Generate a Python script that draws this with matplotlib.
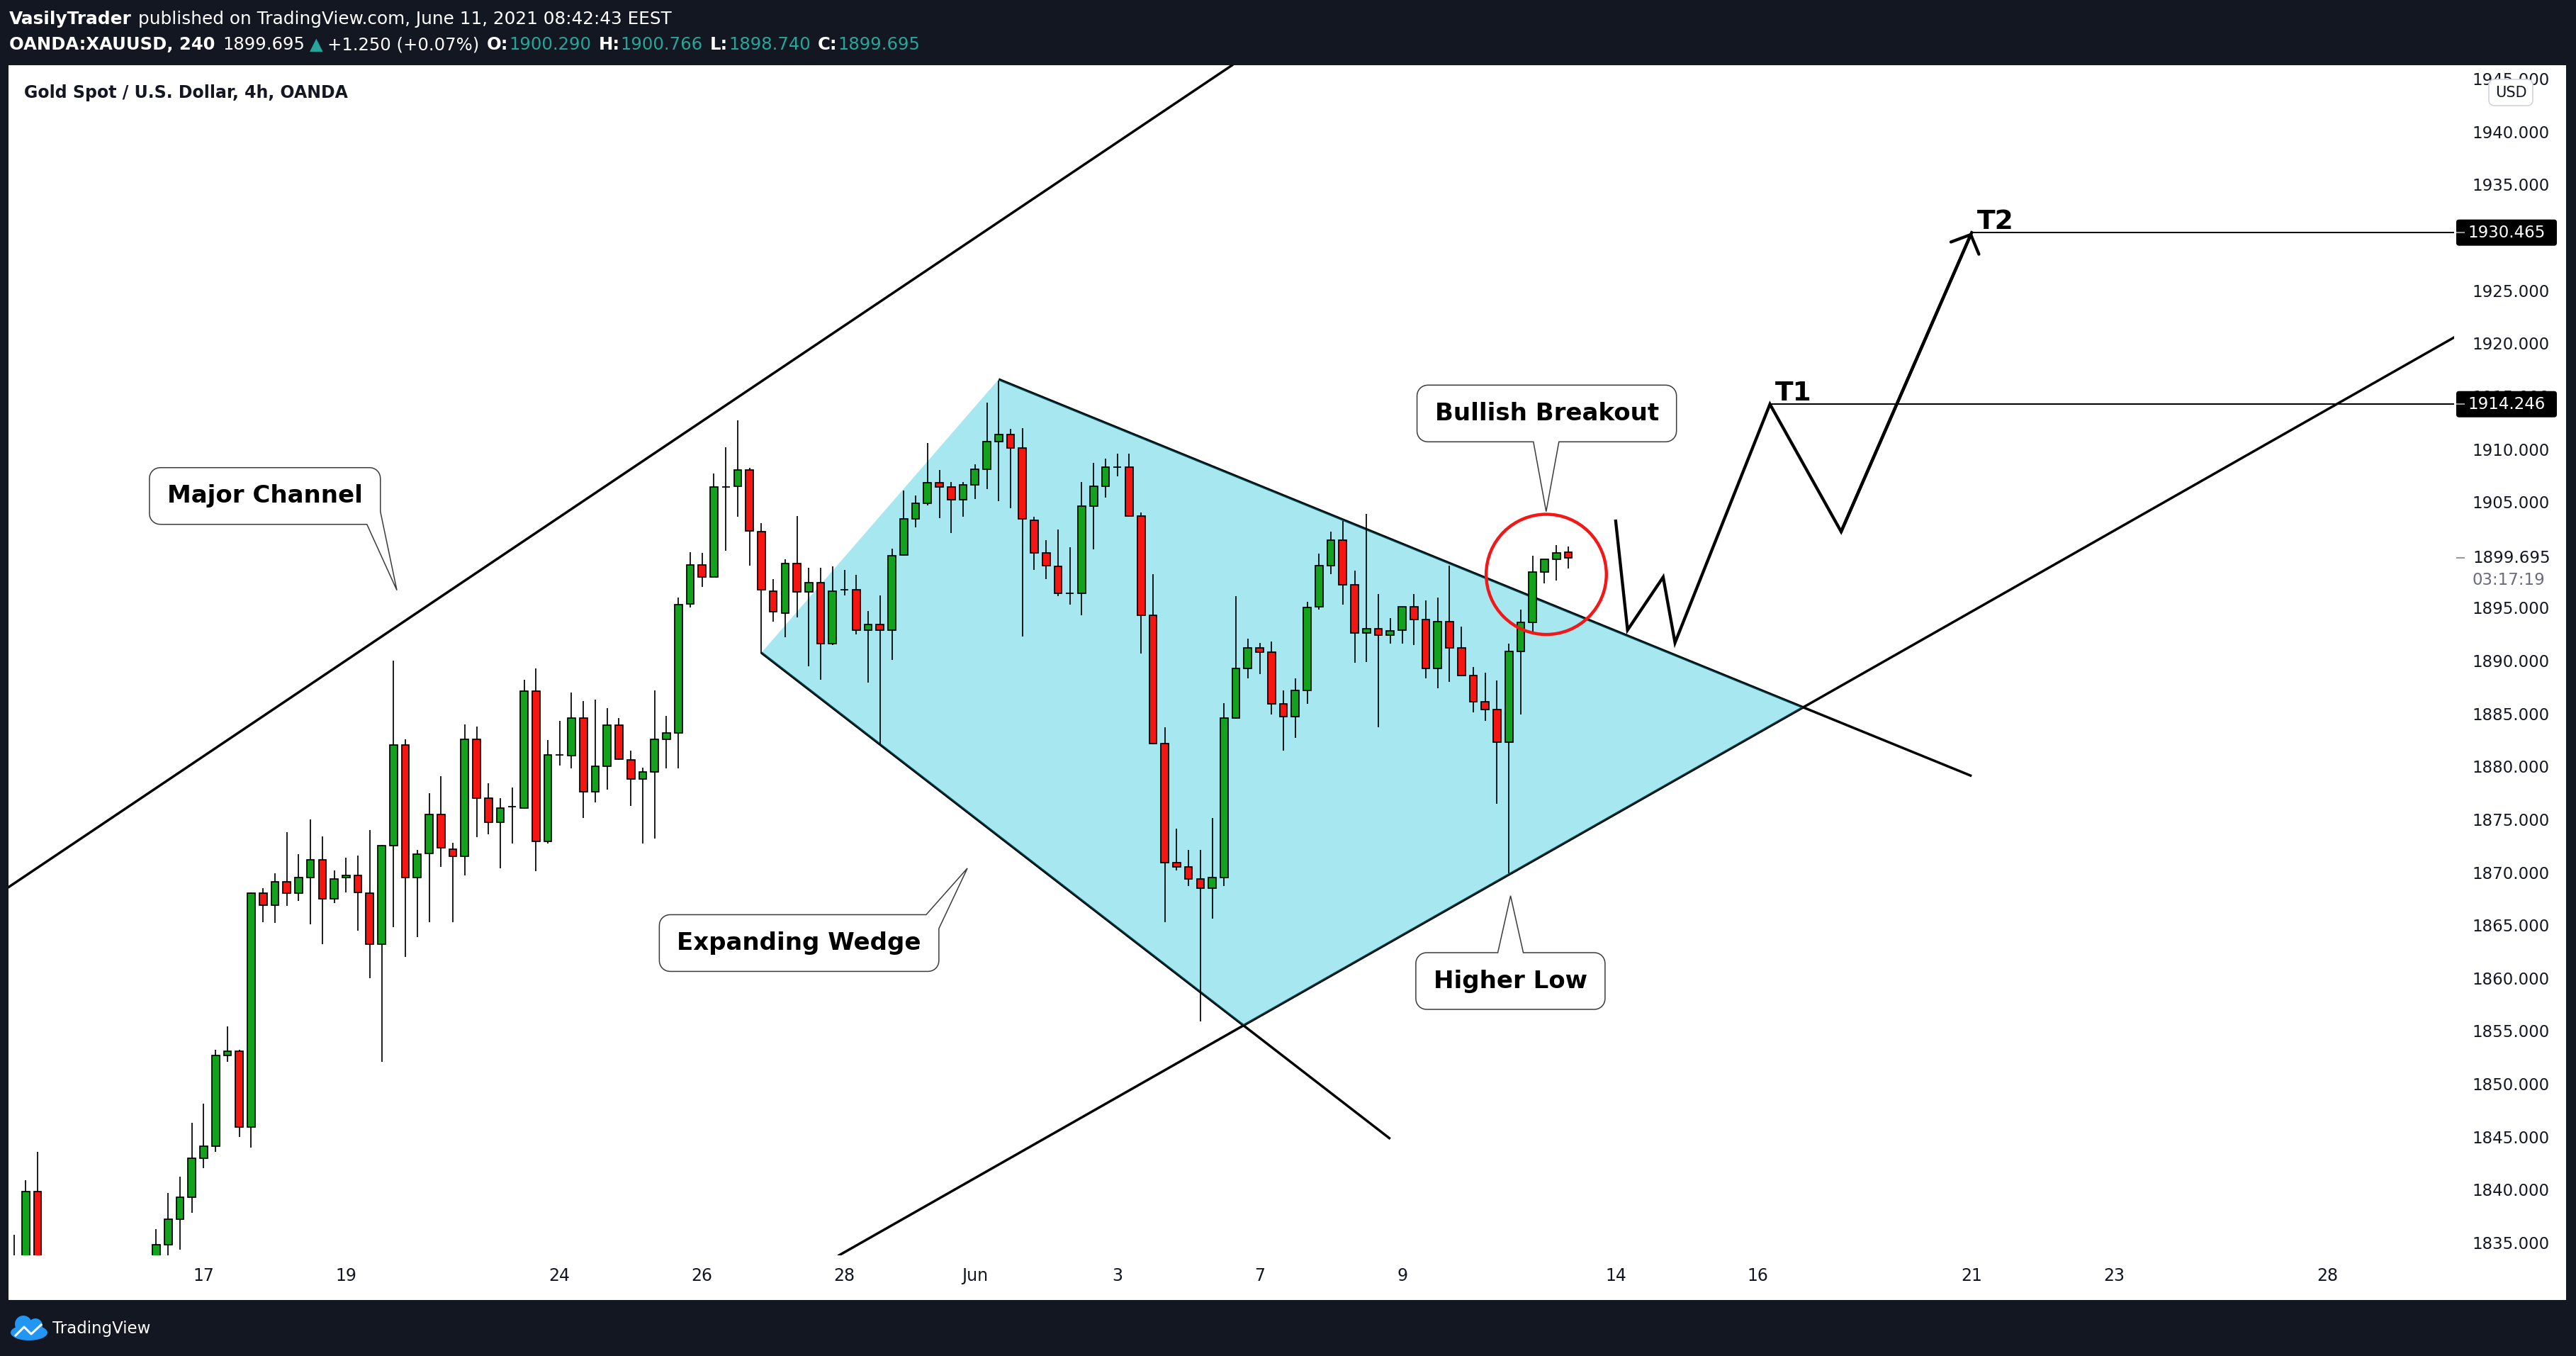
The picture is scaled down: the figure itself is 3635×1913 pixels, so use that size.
import matplotlib
matplotlib.use("Agg")
import matplotlib.pyplot as plt
import numpy as np
from matplotlib.patches import Rectangle, FancyBboxPatch, Ellipse, Polygon

W, H = 3635, 1913
BG = "#131722"
INK = "#131722"
UP = "#13a21b"
DOWN = "#f51612"
TEAL = "#26a69a"
nan = float("nan")

# 4h candles of OANDA:XAUUSD, bar 0 = first bar of May 17 2021
# (bars -13..-5 sit below the visible price range)
first_bar = -16
opens = [1832.5, 1828.0, 1839.85] + [nan] * 9 + [
    1831.5, 1834.8, 1837.2, 1839.3, 1843.0, 1844.1, 1852.7, 1853.1, 1845.9, 1868.0,
    1866.9, 1869.1, 1868.0, 1869.5, 1871.2, 1867.5, 1869.5, 1869.7, 1868.0, 1863.2,
    1872.5, 1882.0, 1869.5, 1871.8, 1875.5, 1872.2, 1871.5, 1882.6, 1877.0, 1874.7,
    1876.2, 1876.1, 1887.1, 1872.9, 1881.1, 1881.0, 1884.6, 1877.6, 1880.0, 1883.9,
    1880.6, 1878.8, 1879.5, 1882.6, 1883.2, 1895.35, 1899.07, 1897.9, 1906.45, 1906.5,
    1908.0, 1902.2, 1896.6, 1894.5, 1899.2, 1896.5, 1897.4, 1891.6, 1896.7, 1896.7,
    1892.9, 1893.4, 1892.9, 1900.0, 1903.4, 1904.9, 1906.8, 1906.4, 1905.2, 1906.6,
    1908.1, 1910.7, 1911.4, 1910.1, 1903.3, 1900.2, 1898.9, 1896.4, 1896.4, 1904.6,
    1906.5, 1908.3, 1908.3, 1903.7, 1894.3, 1882.2, 1870.9, 1870.5, 1869.4, 1868.5,
    1869.5, 1884.6, 1889.3, 1891.2, 1890.8, 1885.9, 1884.7, 1887.2, 1895.1, 1899.0,
    1901.4, 1897.2, 1892.6, 1893.0, 1892.4, 1892.9, 1895.1, 1893.9, 1889.3, 1893.7,
    1891.2, 1888.6, 1886.1, 1885.4, 1882.3, 1890.9, 1893.6, 1898.4, 1899.6, 1900.290]
highs = [1835.7, 1840.9, 1843.6] + [nan] * 9 + [
    1836.3, 1839.7, 1841.2, 1846.3, 1848.1, 1853.2, 1855.4, 1853.2, 1868.1, 1868.5,
    1869.9, 1873.8, 1871.7, 1875.0, 1873.4, 1870.2, 1871.4, 1871.6, 1874.0, 1872.6,
    1890.0, 1882.6, 1872.1, 1877.5, 1879.1, 1872.8, 1884.0, 1883.8, 1878.4, 1877.0,
    1878.0, 1888.2, 1889.3, 1882.5, 1884.3, 1887.0, 1886.2, 1886.3, 1885.5, 1884.6,
    1881.5, 1879.9, 1887.2, 1884.8, 1896.0, 1900.26, 1900.2, 1907.7, 1910.2, 1912.7,
    1908.2, 1903.0, 1897.7, 1899.6, 1903.7, 1898.8, 1898.8, 1898.9, 1898.6, 1898.1,
    1894.7, 1896.2, 1900.6, 1906.1, 1905.6, 1910.6, 1908.0, 1906.9, 1906.9, 1908.6,
    1914.4, 1916.5, 1911.9, 1912.0, 1903.6, 1901.4, 1902.4, 1900.7, 1906.9, 1908.7,
    1909.1, 1909.6, 1909.6, 1904.0, 1898.2, 1883.7, 1874.1, 1872.1, 1872.1, 1875.1,
    1886.0, 1896.1, 1892.1, 1891.7, 1891.8, 1887.2, 1888.3, 1895.6, 1900.1, 1902.2,
    1903.2, 1898.5, 1903.9, 1896.3, 1894.0, 1895.1, 1896.3, 1895.7, 1896.0, 1899.0,
    1893.2, 1889.4, 1888.9, 1888.1, 1891.6, 1894.8, 1899.9, 1899.6, 1900.9, 1900.766]
lows = [1830.0, 1826.5, 1827.0] + [nan] * 9 + [
    1830.5, 1833.0, 1834.3, 1837.8, 1842.0, 1843.6, 1852.1, 1845.0, 1844.0, 1865.3,
    1865.2, 1866.8, 1867.3, 1865.1, 1863.2, 1867.1, 1868.1, 1864.5, 1860.0, 1852.1,
    1864.8, 1862.0, 1863.9, 1865.3, 1870.5, 1865.3, 1869.7, 1873.3, 1873.6, 1870.4,
    1872.7, 1876.0, 1870.1, 1872.7, 1880.1, 1879.8, 1875.1, 1876.6, 1877.8, 1880.6,
    1876.3, 1872.7, 1873.2, 1879.8, 1879.8, 1895.05, 1896.95, 1897.9, 1900.4, 1903.6,
    1899.0, 1890.7, 1893.7, 1892.2, 1894.1, 1889.5, 1888.2, 1891.5, 1896.2, 1892.5,
    1887.9, 1882.1, 1890.1, 1899.9, 1902.6, 1904.7, 1903.5, 1902.1, 1903.6, 1905.3,
    1906.2, 1905.1, 1904.4, 1892.3, 1898.6, 1897.7, 1896.1, 1895.3, 1894.3, 1900.5,
    1905.4, 1907.4, 1903.6, 1890.7, 1882.1, 1865.3, 1870.2, 1868.7, 1855.9, 1865.6,
    1868.7, 1884.5, 1888.3, 1888.7, 1884.9, 1881.5, 1882.7, 1885.9, 1894.8, 1898.2,
    1895.3, 1889.8, 1889.9, 1883.7, 1891.6, 1891.6, 1891.5, 1888.3, 1887.4, 1888.0,
    1888.6, 1885.1, 1884.3, 1876.5, 1869.9, 1884.9, 1892.75, 1897.3, 1897.6, 1898.740]
closes = [1832.0, 1839.85, 1829.0] + [nan] * 9 + [
    1834.8, 1837.2, 1839.3, 1843.0, 1844.1, 1852.7, 1853.1, 1845.9, 1868.0, 1866.9,
    1869.1, 1868.0, 1869.5, 1871.2, 1867.5, 1869.4, 1869.7, 1868.1, 1863.2, 1872.5,
    1882.0, 1869.5, 1871.7, 1875.5, 1872.3, 1871.5, 1882.6, 1877.0, 1874.7, 1876.1,
    1876.2, 1887.1, 1872.9, 1881.1, 1881.1, 1884.6, 1877.6, 1880.0, 1883.9, 1880.7,
    1878.8, 1879.5, 1882.6, 1883.2, 1895.3, 1899.07, 1897.9, 1906.4, 1906.45, 1908.0,
    1902.3, 1896.7, 1894.6, 1899.2, 1896.5, 1897.4, 1891.6, 1896.6, 1896.7, 1892.9,
    1893.4, 1892.9, 1899.9, 1903.4, 1904.9, 1906.8, 1906.4, 1905.2, 1906.6, 1908.1,
    1910.7, 1911.4, 1910.1, 1903.4, 1900.2, 1899.0, 1896.4, 1896.4, 1904.6, 1906.5,
    1908.3, 1908.3, 1903.7, 1894.3, 1882.2, 1870.9, 1870.5, 1869.4, 1868.5, 1869.5,
    1884.6, 1889.3, 1891.2, 1890.8, 1885.9, 1884.7, 1887.2, 1895.0, 1899.0, 1901.4,
    1897.2, 1892.6, 1893.0, 1892.4, 1892.8, 1895.1, 1893.9, 1889.3, 1893.7, 1891.2,
    1888.6, 1886.1, 1885.4, 1882.3, 1890.9, 1893.6, 1898.4, 1899.6, 1900.2, 1899.695]

# time axis: bar number of the first bar of each labelled day
date_ticks = [0, 12, 30, 42, 54, 65, 77, 89, 101, 119, 131, 149, 161, 179]
date_labels = ["17", "19", "24", "26", "28", "Jun", "3", "7", "9", "14", "16", "21", "23", "28"]
# 1900 and 1930 are hidden behind the price tags on the scale
price_ticks = [p for p in range(1835, 1950, 5) if p not in (1900, 1930)]

# drawings, as (bar, price)
channel_upper = [(-16.25, 1868.74), (45.05, 1914.93)]
channel_lower = [(80.1, 1850.72), (132.15, 1883.90)]
wedge_upper = [(67.0, 1916.6), (149.0, 1879.1)]
wedge_lower = [(47.0, 1890.75), (100.0, 1844.8)]
path_bars = [119, 120, 123, 124, 132, 138, 149]
path_prices = [1903.2, 1892.9, 1897.9, 1891.7, 1914.246, 1902.2, 1930.465]
target_names = ["T1", "T2"]
target_bars = [132, 149]
target_prices = [1914.246, 1930.465]
breakout_circle = (113.15, 1898.16)

callout_texts = ["Major Channel", "Expanding Wedge", "Bullish Breakout", "Higher Low"]
callout_box = [(5.16, 1905.57), (50.18, 1863.31), (113.19, 1913.37), (110.13, 1859.72)]
callout_tip = [(16.28, 1896.66), (64.36, 1870.38), (113.14, 1904.1), (110.14, 1867.78)]
callout_side = ["br", "tr", "bottom", "top"]


def intersect(l1, l2):
    (x1, y1), (x2, y2) = l1
    (x3, y3), (x4, y4) = l2
    m1 = (y2 - y1) / (x2 - x1)
    m2 = (y4 - y3) / (x4 - x3)
    x = (y3 - y1 + m1 * x1 - m2 * x3) / (m1 - m2)
    return x, y1 + m1 * (x - x1)


fig = plt.figure(figsize=(W / 100, H / 100), dpi=100)
fig.patch.set_facecolor(BG)
fig.add_artist(Rectangle((12 / W, 1 - 1834 / H), (3621 - 12) / W, (1834 - 92) / H,
                         transform=fig.transFigure, fc="white", ec="none", zorder=-1))

ax = fig.add_axes([12 / W, 1 - 1771 / H, (3463 - 12) / W, (1771 - 92) / H])
ax.set_facecolor("white")
ax.set_xlim(-16.45, 189.66)
ax.set_ylim(1833.79, 1946.29)
for s in ax.spines.values():
    s.set_visible(False)
ax.yaxis.tick_right()
ax.set_yticks(price_ticks, [f"{p:.3f}" for p in price_ticks])
ax.set_xticks(date_ticks, date_labels)
ax.tick_params(axis="y", length=0, pad=18.5, labelsize=16.5, labelcolor=INK)
ax.tick_params(axis="x", length=0, pad=12, labelsize=17, labelcolor=INK)

# candles
bars = np.arange(first_bar, first_bar + len(opens))
o, h, l, c = (np.array(v, dtype=float) for v in (opens, highs, lows, closes))
ok = ~np.isnan(o)
bars, o, h, l, c = bars[ok], o[ok], h[ok], l[ok], c[ok]
colors = [UP if ci >= oi else DOWN for oi, ci in zip(o, c)]
ax.vlines(bars, l, h, color="black", lw=1.25, zorder=3)
ax.bar(bars, np.abs(c - o), bottom=np.minimum(o, c), width=0.64, color=colors,
       edgecolor="black", linewidth=1.25, zorder=4)

# trend lines
ax.axline(*channel_upper, color="black", lw=2.5, zorder=1)
ax.axline(*channel_lower, color="black", lw=2.5, zorder=1)
for seg in (wedge_upper, wedge_lower):
    ax.plot([seg[0][0], seg[1][0]], [seg[0][1], seg[1][1]], color="black", lw=2.5,
            solid_capstyle="butt", zorder=1)

# wedge fill, drawn over the lines so they take the cyan tint
fill_pts = [wedge_lower[0], wedge_upper[0],
            intersect(wedge_upper, channel_lower), intersect(wedge_lower, channel_lower)]
ax.add_patch(Polygon(fill_pts, closed=True, fc=(0, 188 / 255, 212 / 255, 0.35),
                     ec="none", zorder=2))

# projected path and targets
ax.plot(path_bars, path_prices, color="black", lw=3.1, solid_joinstyle="miter", zorder=5)
ax.annotate("", xy=(path_bars[-1], path_prices[-1]), xytext=(path_bars[-2], path_prices[-2]),
            arrowprops=dict(arrowstyle="->,head_length=15,head_width=15.5", lw=3.1,
                            color="black", shrinkA=0, shrinkB=0, mutation_scale=1), zorder=5)
for name, tb, tp in zip(target_names, target_bars, target_prices):
    ax.plot([tb, 189.66], [tp, tp], color="black", lw=1.45, zorder=5)
    ax.annotate(name, xy=(tb, tp), xytext=(5.5, 3.6), textcoords="offset points",
                fontsize=27, fontweight="bold", color="black", ha="left", va="baseline",
                zorder=6)

ax.add_patch(Ellipse(breakout_circle, width=10.13, height=11.36, fill=False,
                     ec="#f21818", lw=3.2, zorder=6))

# overlay in pixel coordinates (y down)
ov = fig.add_axes([0, 0, 1, 1], zorder=5)
ov.set_xlim(0, W)
ov.set_ylim(H, 0)
ov.axis("off")
ov.patch.set_visible(False)
renderer = fig.canvas.get_renderer()


def to_px(bar, price):
    x, y = ax.transData.transform((bar, price))
    return x, H - y


def arc(cx, cy, r, a0, a1, n=8):
    a = np.radians(np.linspace(a0, a1, n))
    return list(zip(cx + r * np.cos(a), cy + r * np.sin(a)))


def callout(text, box, tip, side):
    bx, by = to_px(*box)
    tx, ty = to_px(*tip)
    t = ov.text(bx, by, text, ha="center", va="center", fontsize=24.5,
                fontweight="bold", color="black", zorder=8)
    w = t.get_window_extent(renderer).width + 50
    hgt = 80
    left, right, top, bottom = bx - w / 2, bx + w / 2, by - hgt / 2, by + hgt / 2
    r = 15
    pts = arc(left + r, top + r, r, 180, 270)
    if side == "top":
        pts += [(tx - 18, top), (tx, ty), (tx + 18, top)]
    if side == "tr":
        pts += [(right - 18, top), (tx, ty), (right, top + 19.5)]
    else:
        pts += arc(right - r, top + r, r, 270, 360)
    if side == "br":
        pts += [(right, bottom - 18), (tx, ty), (right - 19, bottom)]
    else:
        pts += arc(right - r, bottom - r, r, 0, 90)
    if side == "bottom":
        pts += [(tx + 18, bottom), (tx, ty), (tx - 18, bottom)]
    pts += arc(left + r, bottom - r, r, 90, 180)
    ov.add_patch(Polygon(pts, closed=True, fc="white", ec="#3c3c3c", lw=1.1, zorder=7))


for text, box, tip, side in zip(callout_texts, callout_box, callout_tip, callout_side):
    callout(text, box, tip, side)


def text_row(x, y, parts, size):
    for s, color, weight, gap in parts:
        t = ov.text(x, y, s, color=color, fontsize=size, fontweight=weight,
                    va="center", ha="left")
        x += t.get_window_extent(renderer).width + gap


text_row(13, 27, [("VasilyTrader", "white", "bold", 9),
                  ("published on TradingView.com, June 11, 2021 08:42:43 EEST", "white", "normal", 0)], 17.8)
text_row(13, 63, [("OANDA:XAUUSD, 240", "white", "bold", 11),
                  (f"{closes[-1]:.3f}", "white", "normal", 7),
                  ("\u25b2", TEAL, "normal", 6),
                  ("+1.250 (+0.07%)", "white", "normal", 11),
                  ("O:", "white", "bold", 1), (f"{opens[-1]:.3f}", TEAL, "normal", 10),
                  ("H:", "white", "bold", 1), (f"{highs[-1]:.3f}", TEAL, "normal", 10),
                  ("L:", "white", "bold", 1), (f"{lows[-1]:.3f}", TEAL, "normal", 10),
                  ("C:", "white", "bold", 1), (f"{closes[-1]:.3f}", TEAL, "normal", 0)], 17.5)
ov.text(34, 131, "Gold Spot / U.S. Dollar, 4h, OANDA", fontsize=17, fontweight="bold",
        color=INK, va="center", ha="left")

# price scale extras
ov.add_patch(FancyBboxPatch((3512, 112), 62, 37, boxstyle="round,pad=0,rounding_size=8",
                            fc="white", ec="#d1d4dc", lw=1.2, zorder=6))
ov.text(3543, 131, "USD", fontsize=15, color=INK, ha="center", va="center", zorder=7)
for tp in target_prices:
    _, yc = to_px(0, tp)
    ov.add_patch(FancyBboxPatch((3466, yc - 18.5), 142, 37, boxstyle="round,pad=0,rounding_size=4",
                                fc="black", ec="none", zorder=6))
    ov.plot([3467, 3477], [yc, yc], color="#9598a1", lw=1.5, zorder=7)
    ov.text(3537, yc, f"{tp:.3f}", fontsize=16.5, color="white", ha="center", va="center", zorder=7)
_, yl = to_px(0, closes[-1])
ov.plot([3467, 3477], [yl, yl], color="#9598a1", lw=1.5, zorder=7)
ov.text(3489, yl, f"{closes[-1]:.3f}", fontsize=16.5, color=INK, ha="left", va="center", zorder=7)
ov.text(3489, yl + 31, "03:17:19", fontsize=16.5, color="#6a6d78", ha="left", va="center", zorder=7)

# footer logo
ov.add_patch(Ellipse((41, 1880), 52, 22, fc="#2196f3", ec="none"))
ov.add_patch(Ellipse((33, 1868), 24, 24, fc="#2196f3", ec="none"))
ov.add_patch(Ellipse((50, 1870), 20, 20, fc="#2196f3", ec="none"))
ov.plot([22, 34, 44, 58], [1884, 1872, 1882, 1869], color="white", lw=2.2)
ov.text(74, 1874, "TradingView", fontsize=16.5, color="white", ha="left", va="center")

fig.savefig("out.png", dpi=100, facecolor=BG)
